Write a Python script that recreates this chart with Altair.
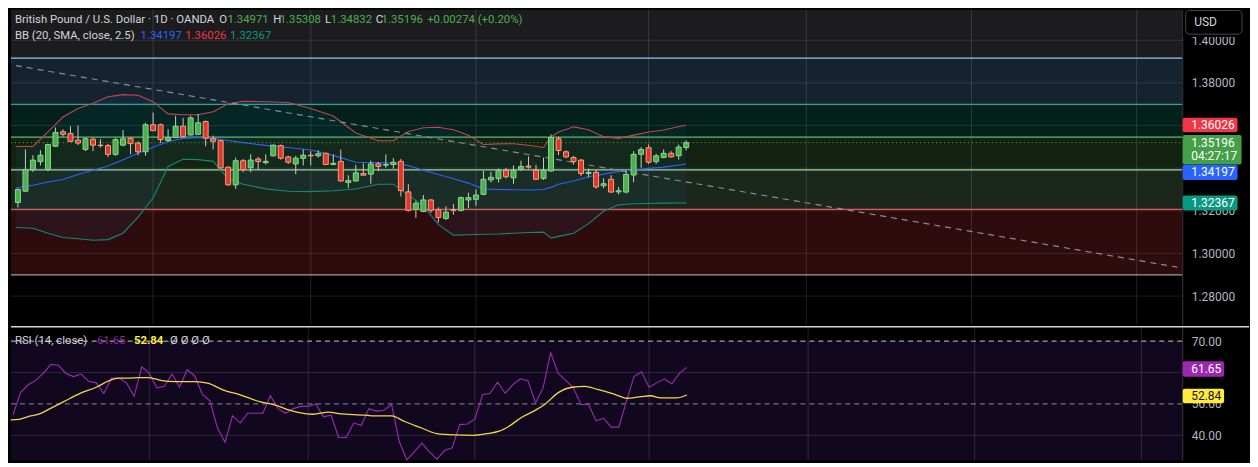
import altair as alt
import pandas as pd

# ---------------- data ----------------
opens = [1.3239, 1.3292, 1.3393, 1.3431, 1.3393, 1.3503, 1.3571, 1.3563, 1.3532, 1.3488,
         1.3536, 1.3508, 1.3506, 1.3465, 1.3508, 1.3541, 1.3518, 1.3477, 1.3604, 1.3604,
         1.3530, 1.3544, 1.3597, 1.3556, 1.3559, 1.3619, 1.3538, 1.3529, 1.3405, 1.3322,
         1.3435, 1.3402, 1.3443, 1.3426, 1.3458, 1.3506, 1.3453, 1.3420, 1.3446, 1.3461,
         1.3458, 1.3470, 1.3417, 1.3432, 1.3333, 1.3340, 1.3375, 1.3372, 1.3420, 1.3414,
         1.3417, 1.3432, 1.3289, 1.3206, 1.3197, 1.3251, 1.3205, 1.3164, 1.3206, 1.3202,
         1.3251, 1.3254, 1.3277, 1.3345, 1.3351, 1.3390, 1.3355, 1.3395, 1.3410, 1.3390,
         1.3352, 1.3387, 1.3538, 1.3477, 1.3450, 1.3438, 1.3375, 1.3380, 1.3318, 1.3348,
         1.3289, 1.3288, 1.3368, 1.3465, 1.3496, 1.3431, 1.3450, 1.3470, 1.3458, 1.34971]
highs = [1.3305, 1.3488, 1.3461, 1.3484, 1.3514, 1.3591, 1.3583, 1.3597, 1.3601, 1.3544,
         1.3544, 1.3536, 1.3514, 1.3541, 1.3579, 1.3544, 1.3526, 1.3613, 1.3661, 1.3609,
         1.3583, 1.3646, 1.3636, 1.3646, 1.3654, 1.3624, 1.3553, 1.3533, 1.3408, 1.3450,
         1.3443, 1.3465, 1.3453, 1.3465, 1.3511, 1.3511, 1.3458, 1.3458, 1.3488, 1.3480,
         1.3484, 1.3473, 1.3465, 1.3488, 1.3367, 1.3416, 1.3423, 1.3435, 1.3428, 1.3465,
         1.3447, 1.3443, 1.3325, 1.3247, 1.3274, 1.3254, 1.3217, 1.3221, 1.3232, 1.3267,
         1.3285, 1.3300, 1.3387, 1.3383, 1.3398, 1.3402, 1.3413, 1.3435, 1.3455, 1.3416,
         1.3450, 1.3559, 1.3548, 1.3484, 1.3458, 1.3443, 1.3398, 1.3393, 1.3352, 1.3367,
         1.3312, 1.3387, 1.3480, 1.3499, 1.3511, 1.3468, 1.3488, 1.3480, 1.3511, 1.35308]
lows = [1.3216, 1.3290, 1.3383, 1.3413, 1.3386, 1.3499, 1.3548, 1.3523, 1.3508, 1.3480,
        1.3480, 1.3496, 1.3453, 1.3458, 1.3503, 1.3465, 1.3461, 1.3458, 1.3574, 1.3518,
        1.3523, 1.3541, 1.3544, 1.3553, 1.3556, 1.3503, 1.3488, 1.3398, 1.3318, 1.3303,
        1.3381, 1.3381, 1.3393, 1.3417, 1.3455, 1.3440, 1.3420, 1.3372, 1.3413, 1.3413,
        1.3450, 1.3416, 1.3416, 1.3337, 1.3307, 1.3337, 1.3367, 1.3327, 1.3386, 1.3402,
        1.3398, 1.3267, 1.3197, 1.3167, 1.3194, 1.3190, 1.3145, 1.3157, 1.3182, 1.3197,
        1.3212, 1.3224, 1.3273, 1.3333, 1.3333, 1.3352, 1.3327, 1.3387, 1.3398, 1.3345,
        1.3345, 1.3383, 1.3462, 1.3447, 1.3417, 1.3363, 1.3357, 1.3304, 1.3307, 1.3285,
        1.3277, 1.3282, 1.3334, 1.3402, 1.3420, 1.3420, 1.3447, 1.3450, 1.3440, 1.34832]
closes = [1.3300, 1.3393, 1.3438, 1.3461, 1.3511, 1.3568, 1.3559, 1.3526, 1.3518, 1.3538,
          1.3508, 1.3506, 1.3465, 1.3534, 1.3538, 1.3515, 1.3477, 1.3604, 1.3576, 1.3534,
          1.3544, 1.3597, 1.3548, 1.3636, 1.3613, 1.3541, 1.3526, 1.3401, 1.3322, 1.3435,
          1.3393, 1.3438, 1.3431, 1.3432, 1.3508, 1.3447, 1.3428, 1.3447, 1.3461, 1.3458,
          1.3468, 1.3417, 1.3423, 1.3340, 1.3342, 1.3378, 1.3367, 1.3420, 1.3408, 1.3417,
          1.3428, 1.3295, 1.3202, 1.3235, 1.3251, 1.3202, 1.3169, 1.3194, 1.3202, 1.3262,
          1.3262, 1.3274, 1.3348, 1.3357, 1.3390, 1.3360, 1.3390, 1.3408, 1.3405, 1.3348,
          1.3390, 1.3544, 1.3483, 1.3453, 1.3431, 1.3375, 1.3380, 1.3312, 1.3327, 1.3288,
          1.3294, 1.3371, 1.3465, 1.3488, 1.3428, 1.3458, 1.3470, 1.3453, 1.3499, 1.35196]

rsi_values = [46.4, 53.6, 56.1, 57.5, 59.7, 62.6, 62.3, 59.7, 58.7, 59.5,
              57.2, 56.7, 53.3, 58.2, 58.2, 56.7, 52.4, 61.8, 59.7, 55.1,
              55.6, 59.5, 55.4, 60.9, 58.9, 53.1, 51.0, 42.4, 37.8, 46.2,
              43.9, 47.0, 47.0, 47.0, 52.6, 48.5, 47.0, 48.5, 49.2, 49.2,
              50.0, 45.9, 46.4, 39.3, 39.3, 43.9, 43.2, 48.5, 47.7, 48.0,
              49.8, 38.1, 32.2, 34.7, 37.5, 34.7, 32.4, 35.2, 36.0, 43.4,
              43.6, 45.2, 52.9, 53.4, 56.9, 53.4, 56.1, 58.0, 57.4, 50.3,
              55.1, 66.3, 59.7, 57.5, 55.1, 49.8, 49.8, 44.6, 45.4, 42.6,
              42.6, 50.7, 58.7, 60.2, 55.3, 56.7, 57.9, 56.4, 59.7, 61.65]

rsi_ma_idx = [-0.3, 0.8, 1.9, 3.6, 4.9, 6.7, 8.8, 11.0, 12.7, 14.0, 15.3, 16.6, 17.9,
              19.7, 21.4, 24.0, 25.7, 27.9, 30.0, 32.6, 34.4, 36.5, 37.8, 39.6, 41.7,
              43.0, 46.5, 47.4, 50.0, 51.7, 53.9, 56.0, 58.2, 60.8, 62.5, 64.2, 65.5,
              67.3, 69.0, 70.3, 72.0, 73.8, 75.5, 77.2, 79.4, 81.1, 82.9, 84.2, 85.5,
              87.6, 89.0]
rsi_ma_val = [44.9, 45.1, 45.9, 46.9, 48.5, 50.7, 53.3, 55.3, 57.4, 58.2, 58.2, 58.4, 58.4,
              57.4, 57.1, 57.1, 56.6, 54.3, 52.9, 50.7, 49.8, 48.0, 47.2, 46.7, 47.4,
              46.9, 46.4, 46.2, 46.2, 44.4, 42.4, 40.5, 40.1, 40.0, 40.5, 41.3, 42.9,
              45.9, 48.0, 50.0, 53.6, 55.3, 55.6, 54.6, 53.1, 51.8, 52.3, 52.6, 51.9,
              51.9, 52.84]

bb_idx = [-0.3, 2, 4, 6, 8, 10, 12, 14, 16, 18, 20, 22, 24, 26, 28, 30, 33, 36, 39, 42,
          45, 48, 50, 52, 54, 56, 58, 60, 62, 64, 66, 68, 70, 71, 72, 74, 76, 78, 80,
          82, 84, 86, 89]
bb_upper = [1.3502, 1.3502, 1.3570, 1.3640, 1.3680, 1.3705, 1.3735, 1.3745, 1.3742, 1.3712,
            1.3655, 1.3651, 1.3651, 1.3665, 1.3702, 1.3714, 1.3712, 1.3708, 1.3680, 1.3645,
            1.3565, 1.3529, 1.3529, 1.3572, 1.3590, 1.3592, 1.3580, 1.3555, 1.3511, 1.3514,
            1.3515, 1.3508, 1.3497, 1.3547, 1.3570, 1.3594, 1.3580, 1.3548, 1.3540, 1.3555,
            1.3570, 1.3579, 1.36026]
bb_mid = [1.3307, 1.3320, 1.3335, 1.3347, 1.3370, 1.3390, 1.3410, 1.3440, 1.3470, 1.3498,
          1.3525, 1.3540, 1.3544, 1.3540, 1.3530, 1.3520, 1.3507, 1.3497, 1.3485, 1.3460,
          1.3428, 1.3426, 1.3423, 1.3412, 1.3390, 1.3370, 1.3350, 1.3330, 1.3303, 1.3300,
          1.3299, 1.3298, 1.3300, 1.3310, 1.3325, 1.3340, 1.3360, 1.3372, 1.3385, 1.3393,
          1.3399, 1.3405, 1.34197]
bb_lower = [1.3122, 1.3118, 1.3095, 1.3075, 1.3069, 1.3062, 1.3065, 1.3095, 1.3170, 1.3260,
            1.3408, 1.3442, 1.3440, 1.3432, 1.3350, 1.3325, 1.3303, 1.3292, 1.3290, 1.3294,
            1.3302, 1.3325, 1.3325, 1.3275, 1.3222, 1.3135, 1.3086, 1.3088, 1.3090, 1.3091,
            1.3095, 1.3098, 1.3100, 1.3072, 1.3080, 1.3095, 1.3140, 1.3198, 1.3228, 1.3233,
            1.3234, 1.3236, 1.32367]

level_prices = [1.39162, 1.36992, 1.35455, 1.33919, 1.32066, 1.28992]
level_colors = ["#90caf9", "#26a69a", "#66bb6a", "#a5d6a7", "#e05a5f", "#9e9e9e"]
band_lo = [1.39162, 1.36992, 1.35455, 1.33919, 1.32066, 1.28992]
band_hi = [1.42000, 1.39162, 1.36992, 1.35455, 1.33919, 1.32066]
band_colors = ["#1c1c1e", "#152230", "#03201a", "#132211", "#1b271b", "#2e0c0e"]

trend_idx = [-0.26, 154.4]
trend_price = [1.38814, 1.29354]

price_grid = [1.28, 1.30, 1.32, 1.34, 1.36, 1.38, 1.40]
price_labels = [1.28, 1.30, 1.32, 1.38, 1.40]      # 1.34 / 1.36 sit under the badges
rsi_labels = [40, 50, 70]                          # 60 sits under the RSI badge
rsi_grid = [40, 60]
month_idx = [18, 39, 61, 84, 105, 127, 149]

last_close = 1.35196
bb_last = {"basis": 1.34197, "upper": 1.36026, "lower": 1.32367}
rsi_last = 61.65
rsi_ma_last = 52.84

# ---------------- layout ----------------
FONT = "Roboto"
HFS = 11.4
W, H1, H2 = 1175, 316, 134
XDOM = [-0.26, 154.4]
YDOM = [1.26656, 1.41435]
RDOM = [32.04, 74.59]
PP = (YDOM[1] - YDOM[0]) / H1    # price per pixel
RP = (RDOM[1] - RDOM[0]) / H2    # rsi per pixel

XS = alt.Scale(domain=XDOM, nice=False, zero=False)
YS = alt.Scale(domain=YDOM, nice=False, zero=False)
RS = alt.Scale(domain=RDOM, nice=False, zero=False)

yaxis = alt.Axis(orient="right", values=price_labels, format=".5f", labelColor="#b2b5be",
                 labelFont=FONT, labelFontSize=12, labelPadding=9, ticks=False, grid=False,
                 domainColor="#3a3a3a", labelOverlap=False, title=None)
raxis = alt.Axis(orient="right", values=rsi_labels, format=".2f", labelColor="#b2b5be",
                 labelFont=FONT, labelFontSize=12, labelPadding=9, ticks=False, grid=False,
                 domainColor="#3a3a3a", labelOverlap=False, title=None)

one = pd.DataFrame({"a": [0]})

def X(f="i:Q"):
    return alt.X(f, scale=XS, axis=None, title=None)

def Y(f):
    return alt.Y(f, scale=YS, axis=yaxis, title=None)

def R(f):
    return alt.Y(f, scale=RS, axis=raxis, title=None)

def txt(s, x, y, color, size=HFS, weight="normal", align="left"):
    return alt.Chart(one).mark_text(
        align=align, baseline="middle", font=FONT, fontSize=size,
        fontWeight=weight, color=color
    ).encode(x=alt.value(x), y=alt.value(y), text=alt.value(s))

# ---------------- price panel ----------------
candles = pd.DataFrame({"i": list(range(len(opens))), "open": opens, "high": highs,
                        "low": lows, "close": closes})
bands = pd.DataFrame({"lo": band_lo, "hi": band_hi, "col": band_colors})
levels = pd.DataFrame({"p": level_prices, "col": level_colors})
bb = pd.DataFrame({"i": bb_idx, "up": bb_upper, "mid": bb_mid, "lo": bb_lower})
trend = pd.DataFrame({"i": trend_idx, "p": trend_price})
pgrid = pd.DataFrame({"p": price_grid})
vgrid = pd.DataFrame({"i": month_idx})

band_layer = alt.Chart(bands).mark_rect(clip=True).encode(
    x=alt.value(0), x2=alt.value(W),
    y=Y("lo:Q"), y2="hi:Q",
    color=alt.Color("col:N", scale=None))

hgrid_layer = alt.Chart(pgrid).mark_rule(color="#ffffff", opacity=0.11, strokeWidth=1).encode(
    x=alt.value(0), x2=alt.value(W), y=Y("p:Q"))
vgrid_layer = alt.Chart(vgrid).mark_rule(color="#ffffff", opacity=0.13, strokeWidth=1).encode(
    x=X(), y=alt.value(0), y2=alt.value(H1))
level_layer = alt.Chart(levels).mark_rule(strokeWidth=1.2).encode(
    x=alt.value(0), x2=alt.value(W), y=Y("p:Q"), color=alt.Color("col:N", scale=None))

bb_fill = alt.Chart(bb).mark_area(color="#2196f3", opacity=0.06).encode(
    x=X(), y=Y("up:Q"), y2="lo:Q")
bb_up = alt.Chart(bb).mark_line(color="#c2474f", strokeWidth=1.1).encode(x=X(), y=Y("up:Q"))
bb_md = alt.Chart(bb).mark_line(color="#2962ff", strokeWidth=1.1).encode(x=X(), y=Y("mid:Q"))
bb_lw = alt.Chart(bb).mark_line(color="#12897a", strokeWidth=1.1).encode(x=X(), y=Y("lo:Q"))

trend_layer = alt.Chart(trend).mark_line(color="#8a8d96", strokeWidth=1.2,
                                         strokeDash=[6, 5]).encode(x=X(), y=Y("p:Q"))
close_line = alt.Chart(pd.DataFrame({"p": [last_close]})).mark_rule(
    color="#4caf50", strokeDash=[1, 3], strokeWidth=1).encode(
    x=alt.value(0), x2=alt.value(W), y=Y("p:Q"))

up_cond = "datum.close >= datum.open"
wicks = alt.Chart(candles).mark_rule(strokeWidth=1).encode(
    x=X(), y=Y("low:Q"), y2="high:Q",
    color=alt.condition(up_cond, alt.value("#b9d8b9"), alt.value("#d9c2bb")))
bodies = alt.Chart(candles).mark_bar(size=5, strokeWidth=1).encode(
    x=X(), y=Y("open:Q"), y2="close:Q",
    fill=alt.condition(up_cond, alt.value("#4caf50"), alt.value("#e0362c")),
    stroke=alt.condition(up_cond, alt.value("#8fd48f"), alt.value("#f4a27e")))

def badge(value, dy, h, x2, color, lines, enc, pp, tcolor="#ffffff"):
    """value: level the badge marks; dy: pixel shift of badge centre;
    lines: (text, pixel offset of line from badge centre)"""
    c = value - dy * pp
    d = pd.DataFrame({"t": [c + h / 2 * pp], "b": [c - h / 2 * pp]})
    rect = alt.Chart(d).mark_rect(color=color, cornerRadius=2).encode(
        x=alt.value(W + 0.5), x2=alt.value(W + x2), y=enc("t:Q"), y2="b:Q")
    out = [rect]
    for s, ldy in lines:
        td = pd.DataFrame({"v": [c - ldy * pp]})
        out.append(alt.Chart(td).mark_text(align="left", baseline="middle", font=FONT,
                                           fontSize=12, color=tcolor).encode(
            x=alt.value(W + 9), y=enc("v:Q"), text=alt.value(s)))
    return out

badges = []
badges += badge(bb_last["upper"], 0.0, 14.5, 55.5, "#f23645", [("1.36026", 0)], Y, PP)
badges += badge(last_close, 7.0, 29.6, 59.5, "#43a047",
                [("1.35196", -7.0), ("04:27:17", 6.5)], Y, PP)
badges += badge(bb_last["basis"], 8.4, 15.5, 55.5, "#2962ff", [("1.34197", 0)], Y, PP)
badges += badge(bb_last["lower"], 0.0, 15.0, 55.5, "#089981", [("1.32367", 0)], Y, PP)

usd_bg = alt.Chart(one).mark_rect(fill="#000000").encode(
    x=alt.value(W + 1), x2=alt.value(W + 67), y=alt.value(0), y2=alt.value(27.3))
usd_box = alt.Chart(one).mark_rect(fill="#000000", stroke="#434651", strokeWidth=1,
                                    cornerRadius=4).encode(
    x=alt.value(W + 3.5), x2=alt.value(W + 60), y=alt.value(0.8), y2=alt.value(24.5))

GREEN_T = "#4caf50"
GREY_T = "#d1d4dc"
header = [
    txt("British Pound / U.S. Dollar · 1D · OANDA", 3.9, 10.6, GREY_T),
    txt("O", 209.0, 10.6, GREY_T), txt("1.34971", 217.1, 10.6, GREEN_T),
    txt("H", 263.2, 10.6, GREY_T), txt("1.35308", 269.5, 10.6, GREEN_T),
    txt("L", 314.9, 10.6, GREY_T), txt("1.34832", 320.8, 10.6, GREEN_T),
    txt("C", 365.9, 10.6, GREY_T), txt("1.35196", 371.8, 10.6, GREEN_T),
    txt("+0.00274 (+0.20%)", 417.5, 10.6, GREEN_T),
    txt("BB (20, SMA, close, 2.5)", 3.9, 26.8, GREY_T),
    txt("1.34197", 130.0, 26.8, "#2962ff"),
    txt("1.36026", 174.7, 26.8, "#f23645"),
    txt("1.32367", 219.8, 26.8, "#089981"),
]
usd_text = txt("USD", W + 12, 12.5, GREY_T, size=12)

price_panel = alt.layer(
    band_layer, hgrid_layer, vgrid_layer, level_layer, bb_fill, bb_up, bb_md, bb_lw,
    trend_layer, close_line, wicks, bodies, *badges, usd_bg, usd_box, usd_text, *header
).properties(width=W, height=H1)

# ---------------- RSI panel ----------------
rsi_df = pd.DataFrame({"i": list(range(len(rsi_values))), "r": rsi_values})
ma_df = pd.DataFrame({"i": rsi_ma_idx, "r": rsi_ma_val})

rsi_bg = alt.Chart(pd.DataFrame({"lo": [30], "hi": [70]})).mark_rect(
    color="#110820", clip=True).encode(
    x=alt.value(0), x2=alt.value(W), y=R("lo:Q"), y2="hi:Q")
rsi_hgrid = alt.Chart(pd.DataFrame({"r": rsi_grid})).mark_rule(
    color="#ffffff", opacity=0.13).encode(x=alt.value(0), x2=alt.value(W), y=R("r:Q"))
rsi_vgrid = alt.Chart(vgrid).mark_rule(color="#ffffff", opacity=0.13).encode(
    x=X(), y=alt.value(0), y2=alt.value(H2))
rsi_70 = alt.Chart(pd.DataFrame({"r": [70]})).mark_rule(
    color="#c9cbd1", strokeDash=[5, 4], strokeWidth=1).encode(
    x=alt.value(0), x2=alt.value(W), y=R("r:Q"))
rsi_50 = alt.Chart(pd.DataFrame({"r": [50]})).mark_rule(
    color="#8a8c94", strokeDash=[5, 4], strokeWidth=1).encode(
    x=alt.value(0), x2=alt.value(W), y=R("r:Q"))
rsi_line = alt.Chart(rsi_df).mark_line(color="#9c2bb3", strokeWidth=1.1).encode(
    x=X(), y=R("r:Q"))
ma_line = alt.Chart(ma_df).mark_line(color="#f2d64b", strokeWidth=1.3,
                                     interpolate="monotone").encode(x=X(), y=R("r:Q"))
sep = alt.Chart(one).mark_rule(color="#d6d6d6", strokeWidth=1.5).encode(
    x=alt.value(0), x2=alt.value(W + 67), y=alt.value(0))

rbadges = []
rbadges += badge(rsi_last, 1.6, 15.5, 42.0, "#9c27b0", [("61.65", 0)], R, RP)
rbadges += badge(rsi_ma_last, 1.0, 14.5, 42.0, "#ffeb3b", [("52.84", 0)], R, RP,
                 tcolor="#131722")

rsi_header = [
    txt("RSI (14, close)", 3.9, 14.5, GREY_T),
    txt("61.65", 86.2, 14.5, "#8e24aa"),
    txt("52.84", 123.4, 14.5, "#ffeb3b", weight="bold"),
    txt("Ø  Ø  Ø  Ø", 159.6, 14.5, GREY_T),
]

rsi_panel = alt.layer(
    rsi_bg, rsi_hgrid, rsi_vgrid, rsi_70, rsi_50, rsi_line, ma_line, sep,
    *rbadges, *rsi_header
).properties(width=W, height=H2)

chart = alt.vconcat(price_panel, rsi_panel, spacing=0).properties(
    background="#000000", padding=0
).configure_view(strokeWidth=0)

chart.save("out.html", embed_options={"renderer": "svg", "actions": False})
